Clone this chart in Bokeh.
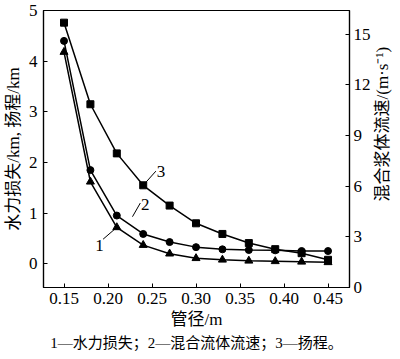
import math
from bokeh.plotting import figure
from bokeh.layouts import row
from bokeh.models import Range1d, LinearAxis, FixedTicker, PrintfTickFormatter, Label, Title
from bokeh.core.properties import value
from bokeh.embed import file_html
from bokeh.resources import INLINE

# data
diameter = [0.15, 0.18, 0.21, 0.24, 0.27, 0.30, 0.33, 0.36, 0.39, 0.42, 0.45]
head_loss = [4.18, 1.62, 0.72, 0.37, 0.20, 0.11, 0.08, 0.06, 0.05, 0.04, 0.03]      # km, left
velocity = [14.6, 6.95, 4.26, 3.17, 2.69, 2.39, 2.26, 2.22, 2.20, 2.16, 2.16]    # m/s, right
pump_head = [4.76, 3.15, 2.18, 1.55, 1.15, 0.80, 0.59, 0.41, 0.29, 0.21, 0.08]    # km, left

x_ticks = [0.15, 0.20, 0.25, 0.30, 0.35, 0.40, 0.45]
left_ticks = [0, 1, 2, 3, 4, 5]
right_ticks = [0, 3, 6, 9, 12, 15]

FONT = "Liberation Serif, Noto Sans CJK SC"
W, H = 373, 351
SW = 19

p = figure(width=W, height=H, output_backend="svg", toolbar_location=None,
           x_range=Range1d(0.1267, 0.4744), y_range=Range1d(-0.467, 5.0),
           min_border_left=34, min_border_right=0, min_border_top=10, min_border_bottom=0)
p.extra_y_ranges = {"v": Range1d(0, 16.40)}
p.grid.visible = False
p.outline_line_color = "black"
p.outline_line_width = 1.2
p.background_fill_color = "white"

def style_axis(ax):
    ax.axis_line_color = "black"
    ax.axis_line_width = 1.2
    ax.major_tick_in = 4
    ax.major_tick_out = 0
    ax.minor_tick_line_color = None
    ax.major_tick_line_color = "black"
    ax.major_label_text_font = FONT
    ax.major_label_text_font_size = "17px"
    ax.major_label_text_color = "black"
    ax.axis_label_text_font = FONT
    ax.axis_label_text_font_size = "17px"
    ax.axis_label_text_font_style = "normal"
    ax.axis_label_text_color = "black"

xa = p.xaxis[0]
style_axis(xa)
xa.ticker = FixedTicker(ticks=x_ticks)
xa.formatter = PrintfTickFormatter(format="%.2f")
xa.axis_label = "管径/m"
xa.major_label_standoff = 5
xa.axis_label_standoff = 3

ya = p.yaxis[0]
style_axis(ya)
ya.ticker = FixedTicker(ticks=left_ticks)
ya.axis_label = "水力损失/km, 扬程/km"
ya.major_label_standoff = 6
ya.axis_label_standoff = 3

ra = LinearAxis(y_range_name="v", ticker=FixedTicker(ticks=right_ticks))
style_axis(ra)
ra.major_label_standoff = 4
p.add_layout(ra, "right")

# series 1: head loss (triangles)
p.line(diameter, head_loss, line_color="black", line_width=1.5)
p.scatter(diameter, head_loss, marker="triangle", size=8, fill_color="black", line_color="black")
# series 2: velocity (circles) on right axis
p.line(diameter, velocity, line_color="black", line_width=1.5, y_range_name="v")
p.scatter(diameter, velocity, marker="circle", size=7, fill_color="black", line_color="black", y_range_name="v")
# series 3: pump head (squares)
p.line(diameter, pump_head, line_color="black", line_width=1.5)
p.scatter(diameter, pump_head, marker="square", size=7, fill_color="black", line_color="black")

# leader lines and labels
p.segment(x0=[0.24, 0.2278, 0.21], y0=[1.55, 0.93, 0.72],
          x1=[0.2544, 0.2367, 0.1944], y1=[1.83, 1.20, 0.486], line_color="black", line_width=1)
for tx, ty, t in [(0.2555, 1.72, "3"), (0.2375, 1.06, "2"), (0.1855, 0.25, "1")]:
    p.add_layout(Label(x=tx, y=ty, text=t, text_font=FONT, text_font_size="17px", text_color="black"))

# caption
cap = Title(text="1—水力损失；2—混合流体流速；3—扬程。", align="center", standoff=2,
            text_font=FONT, text_font_size="15px", text_font_style="normal", text_color="black")
p.add_layout(cap, "below")

# narrow side panel carrying the right-axis title (reads bottom to top)
side = figure(width=SW, height=H, output_backend="svg", toolbar_location=None,
              x_range=Range1d(0, SW), y_range=Range1d(0, H),
              x_axis_location=None, y_axis_location=None,
              min_border_left=0, min_border_right=0, min_border_top=0, min_border_bottom=0)
side.grid.visible = False
side.outline_line_color = None
side.text(x=[SW / 2 - 1], y=[H - 144], text=["混合浆体流速/(m·s⁻¹)"], angle=math.pi / 2,
          text_align="center", text_baseline="middle", text_font=value(FONT),
          text_font_size="17px", text_color="black")

open("out.html", "w").write(file_html(row(p, side, spacing=0), INLINE))
